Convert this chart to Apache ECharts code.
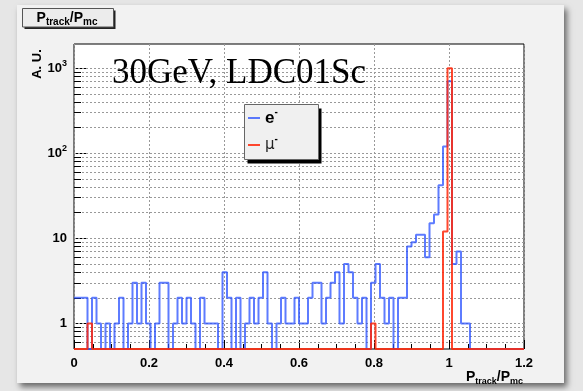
<!DOCTYPE html>
<html><head><meta charset="utf-8">
<script src="https://cdn.jsdelivr.net/npm/echarts@6/dist/echarts.min.js"></script>
<style>
html,body{margin:0;padding:0;width:583px;height:391px;overflow:hidden;background:#e6e6e6;}
#cv{position:absolute;left:17px;top:5px;width:547px;height:378px;background:#f2f2f2;box-shadow:3px 4px 6px rgba(0,0,0,0.55);}
#chart{position:absolute;left:0;top:0;width:583px;height:391px;}
</style></head><body>
<div id="cv"></div><div id="chart"></div>
<script>
// ---- data ----
const BIN_WIDTH = 0.012;
const X_MIN = 0, X_MAX = 1.2;
const Y_MIN = 0.5, Y_MAX = 1923;
const xTickValues = [0, 0.2, 0.4, 0.6, 0.8, 1.0, 1.2];
const xTickLabels = ['0', '0.2', '0.4', '0.6', '0.8', '1', '1.2'];
const yTickValues = [1, 10, 100, 1000];
const yTickLabels = ['1', '10', '10{s|2}', '10{s|3}'];
const yMinorValues = [0.6,0.7,0.8,0.9, 2,3,4,5,6,7,8,9, 20,30,40,50,60,70,80,90, 200,300,400,500,600,700,800,900];
const seriesNames = ['e⁻', 'μ⁻'];
// 100 bins of width 0.012 from 0 to 1.2
const electronCounts = [
  2,2,2,0,2,1,0,1,0,1,
  2,0,1,3,1,3,1,0,1,3,
  3,0,1,2,1,2,1,0,2,1,
  1,1,0,4,2,0,2,0,1,2,
  1,2,4,1,0,1,2,1,1,2,
  1,1,2,3,3,1,2,3,4,1,
  5,4,2,1,2,0,3,5,2,1,
  2,0,2,2,8,9,11,11,6,15,
  19,42,120,700,5,7,1,1,0,0,
  0,0,0,0,0,0,0,0,0,0
];
const muonCounts = [
  0,0,0,1,0,0,0,0,0,0,
  0,0,0,0,0,0,0,0,0,0,
  0,0,0,0,0,0,0,0,0,0,
  0,0,0,0,0,0,0,0,0,0,
  0,0,0,0,0,0,0,0,0,0,
  0,0,0,0,0,0,0,0,0,0,
  0,0,0,0,0,0,1,0,0,0,
  0,0,0,0,0,0,0,0,0,0,
  0,0,12,1000,0,0,0,0,0,0,
  0,0,0,0,0,0,0,0,0,0
];

// ---- build ----
function stepPoints(counts) {
  const pts = counts.map((c, i) => [+(X_MIN + i * BIN_WIDTH).toFixed(4), Math.max(c, Y_MIN)]);
  pts.push([X_MAX, Math.max(counts[counts.length - 1], Y_MIN)]);
  return pts;
}
const PX_PER_X = 450 / (X_MAX - X_MIN);
const gridLineData = yMinorValues.concat(yTickValues).map(v => ({ yAxis: v }));
const minorTickData = yMinorValues.map(v => [{ coord: [X_MIN, v] }, { coord: [X_MIN + 7 / PX_PER_X, v] }]);

const BLUE = 'rgba(40,80,255,0.75)';
const RED = 'rgba(255,40,10,0.85)';
const chart = echarts.init(document.getElementById('chart'), null, { renderer: 'canvas' });
const labFont = 'Liberation Sans';
function isClose(a, b) { return Math.abs(a - b) < 1e-6 * Math.max(1, Math.abs(b)); }

chart.setOption({
  animation: false,
  backgroundColor: 'transparent',
  grid: { left: 74, right: 59, top: 44, bottom: 42, show: true, backgroundColor: '#fff', borderColor: '#000', borderWidth: 1 },
  xAxis: {
    type: 'value', min: X_MIN, max: X_MAX, interval: 0.2,
    axisLine: { show: false },
    axisTick: { show: true, inside: true, length: 9, lineStyle: { color: '#000' } },
    minorTick: { show: true, splitNumber: 4, length: 5, lineStyle: { color: '#000' } },
    splitLine: { show: true, lineStyle: { color: '#999', type: [2, 2], width: 1 } },
    axisLabel: {
      margin: 8, fontFamily: labFont, fontWeight: 'bold', fontSize: 13, color: '#000',
      formatter: v => { const i = xTickValues.findIndex(t => isClose(t, v)); return i >= 0 ? xTickLabels[i] : ''; }
    }
  },
  yAxis: {
    type: 'log', min: Y_MIN, max: Y_MAX, logBase: 10,
    axisLine: { show: false },
    axisTick: { show: true, inside: true, length: 12, lineStyle: { color: '#000' } },
    splitLine: { show: false },
    axisLabel: {
      margin: 7, fontFamily: labFont, fontWeight: 'bold', fontSize: 13, color: '#000', lineHeight: 18,
      showMinLabel: false, showMaxLabel: false,
      formatter: v => { const i = yTickValues.findIndex(t => isClose(t, v)); return i >= 0 ? yTickLabels[i] : ''; },
      rich: { s: { fontFamily: labFont, fontWeight: 'bold', fontSize: 9, lineHeight: 10, verticalAlign: 'top', color: '#000' } }
    }
  },
  legend: {
    data: [
      { name: seriesNames[0], icon: 'rect', itemStyle: { color: BLUE } },
      { name: seriesNames[1], icon: 'rect', itemStyle: { color: RED } }
    ],
    orient: 'vertical', left: 248, top: 107, padding: 0,
    itemWidth: 12, itemHeight: 2, itemGap: 5, z: 20,
    formatter: n => n === seriesNames[0] ? '{e|e}{p|-}' : '{m|μ}{p|-}',
    textStyle: {
      color: '#000', fontSize: 16, lineHeight: 22,
      rich: {
        e: { fontFamily: labFont, fontWeight: 'bold', fontSize: 17, lineHeight: 22, color: '#000' },
        m: { fontFamily: 'DejaVu Sans', fontSize: 15, lineHeight: 22, color: '#222' },
        p: { fontFamily: labFont, fontWeight: 'bold', fontSize: 10, lineHeight: 11, verticalAlign: 'top', color: '#000' }
      }
    }
  },
  series: [
    {
      name: 'grid', type: 'line', data: [[X_MIN, 1]], symbol: 'none', silent: true, z: 1,
      lineStyle: { opacity: 0 },
      markLine: {
        silent: true, symbol: ['none', 'none'], z: 1, animation: false, label: { show: false },
        lineStyle: { color: '#999', type: [2, 2], width: 1 },
        data: gridLineData
      }
    },
    {
      name: 'ticks', type: 'line', data: [[X_MIN, 1]], symbol: 'none', silent: true, z: 2,
      lineStyle: { opacity: 0 },
      markLine: {
        silent: true, symbol: ['none', 'none'], z: 2, animation: false, label: { show: false },
        lineStyle: { color: '#000', type: 'solid', width: 1 },
        data: minorTickData
      }
    },
    {
      name: seriesNames[0], type: 'line', step: 'end', symbol: 'none', clip: false, z: 3,
      data: stepPoints(electronCounts),
      lineStyle: { color: BLUE, width: 2 },
      itemStyle: { color: BLUE }
    },
    {
      name: seriesNames[1], type: 'line', step: 'end', symbol: 'none', clip: false, z: 4,
      data: stepPoints(muonCounts),
      lineStyle: { color: RED, width: 2 },
      itemStyle: { color: RED }
    }
  ],
  graphic: [
    // title box
    { type: 'rect', z: 10, shape: { x: 24.5, y: 10.5, width: 91, height: 18.5 }, style: { fill: '#222' } },
    { type: 'rect', z: 11, shape: { x: 22.5, y: 8.5, width: 91, height: 18.5 }, style: { fill: '#ececec', stroke: '#555', lineWidth: 1 } },
    { type: 'text', z: 12, style: {
        x: 67, y: 18.5, text: '{m|P}{s|track}{m|/P}{s|mc}', align: 'center', verticalAlign: 'middle',
        rich: {
          m: { fontFamily: labFont, fontWeight: 'bold', fontSize: 14, lineHeight: 18, fill: '#000' },
          s: { fontFamily: labFont, fontWeight: 'bold', fontSize: 10, lineHeight: 10, verticalAlign: 'bottom', fill: '#000' }
        } } },
    // x-axis title
    { type: 'text', z: 12, style: {
        x: 523, y: 377, text: '{m|P}{s|track}{m|/P}{s|mc}', align: 'right', verticalAlign: 'middle',
        rich: {
          m: { fontFamily: labFont, fontWeight: 'bold', fontSize: 14, lineHeight: 18, fill: '#000' },
          s: { fontFamily: labFont, fontWeight: 'bold', fontSize: 9, lineHeight: 9, verticalAlign: 'bottom', fill: '#000' }
        } } },
    // y-axis title
    { type: 'text', z: 12, x: 37.5, y: 64, rotation: Math.PI / 2, style: {
        x: 0, y: 0, text: 'A. U.', align: 'center', verticalAlign: 'middle',
        font: 'bold 13px "Liberation Sans"', fill: '#000' } },
    // big label
    { type: 'text', z: 12, style: {
        x: 112, y: 74, text: '30GeV, LDC01Sc', align: 'left', verticalAlign: 'middle',
        font: '35px "Liberation Serif"', fill: '#000' } },
    // legend box
    { type: 'rect', z: 15, shape: { x: 247.5, y: 108.5, width: 74, height: 55 }, style: { fill: '#000' } },
    { type: 'rect', z: 16, shape: { x: 244.5, y: 104.5, width: 74, height: 55 }, style: { fill: '#f0f0f0', stroke: '#666', lineWidth: 1 } }
  ]
});
</script>
</body></html>
